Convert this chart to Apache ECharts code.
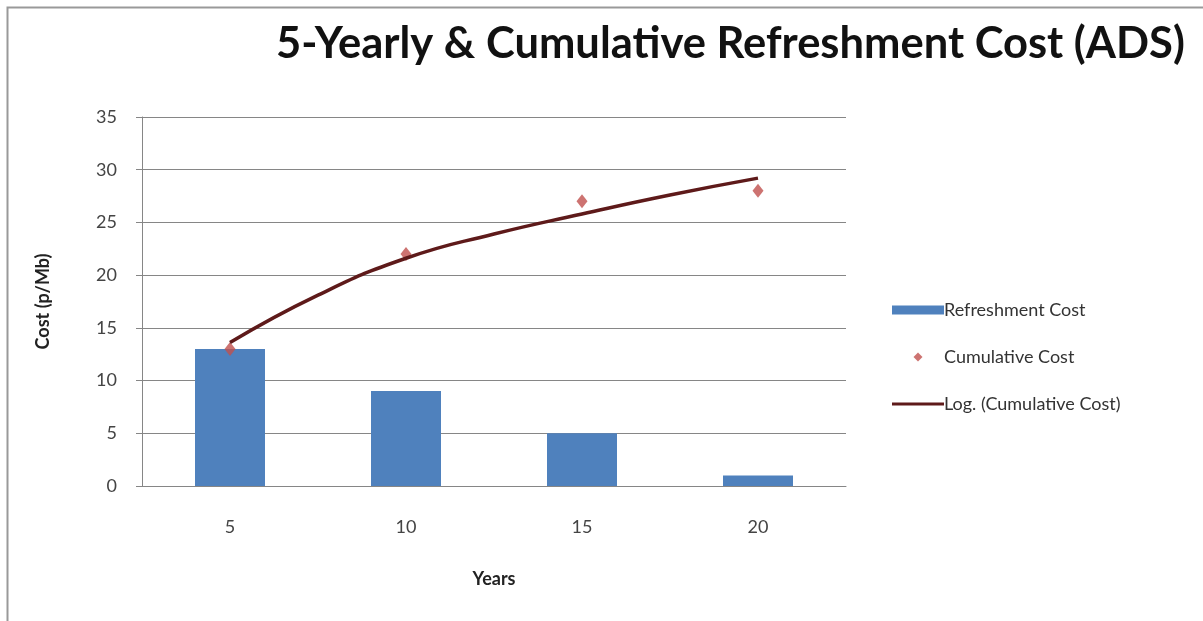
<!DOCTYPE html>
<html lang="en">
<head>
  <meta charset="UTF-8">
  <title>Refreshment Cost</title>
  <script src="https://cdn.jsdelivr.net/npm/echarts@6/dist/echarts.min.js"></script>
  <style>
    html, body { margin: 0; padding: 0; background: #fff; }
  </style>
</head>
<body>
  <div id="chart" style="width:1203px;height:621px;"></div>
  <script>
    // data
    var years = ['5', '10', '15', '20'];
    var refreshCost = [13, 9, 5, 1];
    var cumulativeCost = [13, 22, 27, 28];
    // points (year, value)
    var trendYears = [5, 7.5, 10, 12.5, 15, 17.5, 20];
    var trendValues = [13.6, 18.1, 21.6, 23.9, 25.8, 27.6, 29.2];
    var yTicks = [0, 35, 5]; // min, max, step

    var font = 'Lato, "Open Sans", sans-serif';
    var gray = '#868686';

    var myChart = echarts.init(document.getElementById('chart'));

    var options = {
      backgroundColor: '#fff',
      animation: false,
      title: {
        text: '5-Yearly & Cumulative Refreshment Cost (ADS)',
        left: 271,
        top: 17,
        textStyle: {fontFamily: font, fontSize: 43.5, fontWeight: 'bold', color: '#111'}
      },
      graphic: [{
        type: 'rect',
        shape: {x: 7.5, y: 7.5, width: 1300, height: 700},
        style: {fill: null, stroke: '#999', lineWidth: 2}
      }],
      legend: {
        orient: 'vertical',
        left: 887,
        top: 296,
        itemWidth: 52,
        itemHeight: 9,
        itemGap: 29,
        textStyle: {fontFamily: font, fontSize: 18, color: '#333', padding: [0, 0, 0, -5]},
        data: [
          {name: 'Refreshment Cost', icon: 'rect'},
          {name: 'Cumulative Cost', icon: 'path://M5,0L10,5L5,10L0,5Z'},
          {name: 'Log. (Cumulative Cost)', icon: 'path://M0,0L52,0L52,3L0,3Z'}
        ]
      },
      grid: {left: 142, right: 357, top: 117, bottom: 135},
      xAxis: [{
        type: 'category',
        data: years,
        name: 'Years',
        nameLocation: 'middle',
        nameGap: 84,
        nameTextStyle: {fontFamily: font, fontSize: 18, fontWeight: 'bold', color: '#222'},
        axisLine: {lineStyle: {color: gray}},
        axisTick: {show: false},
        axisLabel: {margin: 32, fontFamily: font, fontSize: 18, color: '#444'}
      }, {
        type: 'value',
        min: 2.5,
        max: 22.5,
        show: false
      }],
      yAxis: {
        type: 'value',
        min: yTicks[0],
        max: yTicks[1],
        interval: yTicks[2],
        name: 'Cost (p/Mb)',
        nameLocation: 'middle',
        nameGap: 90,
        nameTextStyle: {fontFamily: font, fontSize: 18, fontWeight: 'bold', color: '#222'},
        axisLine: {show: true, lineStyle: {color: gray}},
        axisTick: {show: true, length: 6, lineStyle: {color: gray}},
        splitLine: {lineStyle: {color: gray}},
        axisLabel: {margin: 25, fontFamily: font, fontSize: 18, color: '#444'}
      },
      series: [{
        name: 'Refreshment Cost',
        type: 'bar',
        data: refreshCost,
        barWidth: 70,
        itemStyle: {color: '#4F81BD'}
      }, {
        name: 'Cumulative Cost',
        type: 'scatter',
        data: cumulativeCost,
        symbol: 'diamond',
        symbolSize: [11, 14],
        itemStyle: {color: '#C0504D'},
        z: 3
      }, {
        name: 'Log. (Cumulative Cost)',
        type: 'line',
        xAxisIndex: 1,
        data: trendYears.map(function (x, i) { return [x, trendValues[i]]; }),
        smooth: 0.5,
        showSymbol: false,
        lineStyle: {color: '#5E1A1A', width: 3.5},
        itemStyle: {color: '#5E1A1A'},
        z: 4
      }]
    };

    myChart.setOption(options);
  </script>
</body>
</html>
